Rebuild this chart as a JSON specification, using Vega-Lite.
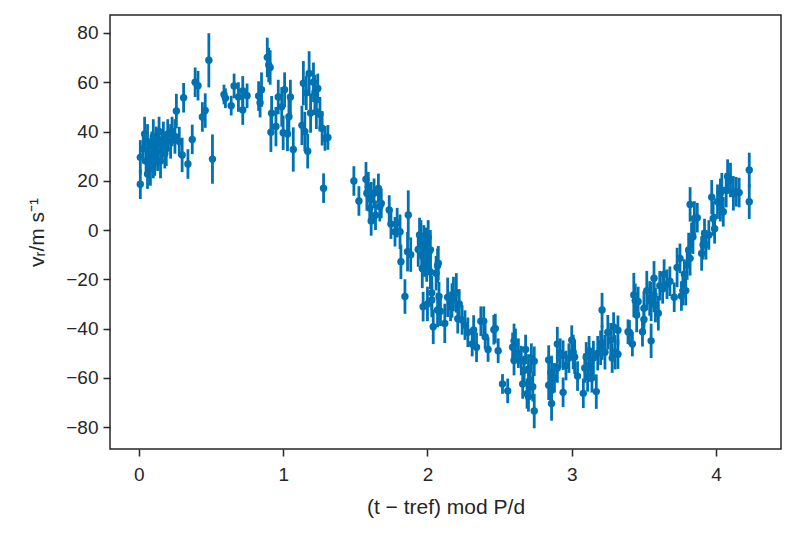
{
  "$schema": "https://vega.github.io/schema/vega-lite/v6.json",
  "width": 671,
  "height": 434,
  "autosize": {"type": "none"},
  "padding": {"left": 110, "top": 15, "right": 13, "bottom": 88},
  "background": "white",
  "config": {
    "view": {"stroke": "#262626", "strokeWidth": 1.5},
    "axis": {
      "grid": false,
      "domain": false,
      "labelFont": "Liberation Sans",
      "titleFont": "Liberation Sans",
      "labelFontSize": 19,
      "titleFontSize": 21,
      "titleFontWeight": "normal",
      "labelColor": "#262626",
      "titleColor": "#262626",
      "tickColor": "#262626",
      "tickSize": 7,
      "tickWidth": 1.5,
      "labelPadding": 5
    }
  },
  "data": {"values": [
    {"x":0.01,"y":18.6,"e":6},{"x":0.01,"y":29.5,"e":7},{"x":0.03,"y":33,"e":6},{"x":0.04,"y":39,"e":7},
    {"x":0.05,"y":28,"e":6},{"x":0.06,"y":22.7,"e":6},{"x":0.06,"y":36,"e":7},{"x":0.07,"y":31,"e":6},
    {"x":0.08,"y":25,"e":7},{"x":0.09,"y":34,"e":6},{"x":0.10,"y":38,"e":7},{"x":0.10,"y":27,"e":6},
    {"x":0.11,"y":29,"e":7},{"x":0.12,"y":36,"e":6},{"x":0.13,"y":32,"e":8},{"x":0.14,"y":40,"e":6},
    {"x":0.15,"y":28,"e":7},{"x":0.16,"y":35,"e":6},{"x":0.17,"y":37,"e":7},{"x":0.18,"y":31,"e":6},
    {"x":0.19,"y":33,"e":7},{"x":0.20,"y":39,"e":6},{"x":0.22,"y":36,"e":7},{"x":0.23,"y":40,"e":6},
    {"x":0.25,"y":38,"e":7},{"x":0.26,"y":48.3,"e":7},{"x":0.28,"y":35.9,"e":6},{"x":0.30,"y":30.5,"e":7},
    {"x":0.31,"y":53.7,"e":6},{"x":0.34,"y":26.8,"e":6},{"x":0.37,"y":36.8,"e":6},{"x":0.39,"y":60,"e":6},
    {"x":0.41,"y":58.6,"e":6},{"x":0.44,"y":45.9,"e":6},{"x":0.46,"y":48.5,"e":7},{"x":0.485,"y":68.9,"e":11},
    {"x":0.51,"y":28.8,"e":10},{"x":0.59,"y":55,"e":4},{"x":0.60,"y":53.5,"e":4},{"x":0.64,"y":50.5,"e":4},
    {"x":0.66,"y":58.5,"e":5},{"x":0.69,"y":54,"e":6},{"x":0.72,"y":48.7,"e":6},{"x":0.72,"y":56.5,"e":6},
    {"x":0.75,"y":54.5,"e":5},{"x":0.83,"y":54.4,"e":6},{"x":0.84,"y":51.7,"e":6},{"x":0.85,"y":57,"e":7},
    {"x":0.89,"y":70.1,"e":8},{"x":0.90,"y":67,"e":7},{"x":0.91,"y":66,"e":7},{"x":0.915,"y":39.7,"e":8},
    {"x":0.92,"y":47.4,"e":7},{"x":0.95,"y":42,"e":8},{"x":0.966,"y":54,"e":7},{"x":0.99,"y":50,"e":8},
    {"x":1.00,"y":39.5,"e":7},{"x":1.01,"y":57,"e":7},{"x":1.03,"y":39,"e":7},{"x":1.04,"y":46,"e":8},
    {"x":1.05,"y":54,"e":7},{"x":1.07,"y":32.7,"e":9},{"x":1.13,"y":42.5,"e":8},{"x":1.14,"y":59.6,"e":9},
    {"x":1.15,"y":40,"e":8},{"x":1.16,"y":55.7,"e":7},{"x":1.17,"y":32,"e":7},{"x":1.18,"y":63.6,"e":9},
    {"x":1.19,"y":47.5,"e":8},{"x":1.21,"y":60,"e":8},{"x":1.22,"y":56,"e":7},{"x":1.23,"y":48,"e":7},
    {"x":1.24,"y":57.5,"e":6},{"x":1.255,"y":47,"e":7},{"x":1.27,"y":41.3,"e":7},{"x":1.28,"y":17,"e":6},
    {"x":1.29,"y":37.2,"e":5},{"x":1.31,"y":37.6,"e":5},
    {"x":1.49,"y":19.9,"e":6},{"x":1.525,"y":11.8,"e":6},{"x":1.574,"y":20.6,"e":7},{"x":1.58,"y":14.9,"e":7},
    {"x":1.59,"y":17.6,"e":6},{"x":1.60,"y":8.8,"e":6},{"x":1.61,"y":3.7,"e":6},{"x":1.61,"y":12.5,"e":7},
    {"x":1.63,"y":14.9,"e":6},{"x":1.64,"y":6,"e":6},{"x":1.66,"y":16.9,"e":6},{"x":1.67,"y":9.5,"e":6},
    {"x":1.68,"y":10.8,"e":6},{"x":1.735,"y":8.1,"e":6},{"x":1.747,"y":2.4,"e":6},{"x":1.775,"y":-0.7,"e":6},
    {"x":1.79,"y":3,"e":6},{"x":1.81,"y":-0.7,"e":7},{"x":1.816,"y":-12.9,"e":7},{"x":1.844,"y":-27,"e":7},
    {"x":1.867,"y":6.1,"e":10},{"x":1.862,"y":-8.8,"e":8},{"x":1.884,"y":-10,"e":7},{"x":1.936,"y":-7.9,"e":7},
    {"x":1.945,"y":-2,"e":7},{"x":1.955,"y":-4,"e":8},{"x":1.96,"y":-10,"e":7},{"x":1.964,"y":-15.6,"e":8},
    {"x":1.97,"y":-31.1,"e":6},{"x":1.975,"y":-6,"e":8},{"x":1.98,"y":-11,"e":8},{"x":1.99,"y":-7,"e":8},
    {"x":1.995,"y":-14,"e":7},{"x":2.00,"y":-30,"e":7},{"x":2.005,"y":-3,"e":7},{"x":2.01,"y":-9,"e":8},
    {"x":2.02,"y":-8,"e":8},{"x":2.02,"y":-17,"e":7},{"x":2.03,"y":-25.5,"e":7},{"x":2.03,"y":-28.4,"e":7},
    {"x":2.04,"y":-39.3,"e":7},{"x":2.06,"y":-17.5,"e":7},{"x":2.07,"y":-14.5,"e":7},{"x":2.075,"y":-13.5,"e":7},
    {"x":2.07,"y":-32.5,"e":7},{"x":2.08,"y":-27,"e":6},{"x":2.09,"y":-33,"e":6},{"x":2.12,"y":-37.9,"e":8},
    {"x":2.14,"y":-27.3,"e":8},{"x":2.16,"y":-31,"e":6},{"x":2.17,"y":-28.6,"e":7},{"x":2.18,"y":-26,"e":7},
    {"x":2.20,"y":-25.5,"e":8},{"x":2.21,"y":-36,"e":6},{"x":2.22,"y":-30,"e":6},{"x":2.24,"y":-36.5,"e":6},
    {"x":2.26,"y":-38.6,"e":6},{"x":2.28,"y":-41.5,"e":6},{"x":2.31,"y":-46.3,"e":5},{"x":2.32,"y":-40.6,"e":6},
    {"x":2.34,"y":-47.6,"e":6},{"x":2.37,"y":-37,"e":6},{"x":2.39,"y":-37,"e":6},{"x":2.40,"y":-43.3,"e":5},
    {"x":2.42,"y":-48.5,"e":5},{"x":2.46,"y":-40.5,"e":6},{"x":2.47,"y":-40,"e":6},{"x":2.49,"y":-49,"e":5},
    {"x":2.52,"y":-62.5,"e":4},{"x":2.556,"y":-65.3,"e":5},{"x":2.59,"y":-47.6,"e":6},{"x":2.60,"y":-45,"e":7},
    {"x":2.60,"y":-53,"e":6},{"x":2.61,"y":-46,"e":6},{"x":2.63,"y":-50,"e":6},{"x":2.65,"y":-53,"e":6},
    {"x":2.66,"y":-62.5,"e":6},{"x":2.67,"y":-57,"e":6},{"x":2.68,"y":-48.5,"e":6},{"x":2.69,"y":-66.5,"e":6},
    {"x":2.70,"y":-56.4,"e":6},{"x":2.70,"y":-67.7,"e":6},{"x":2.71,"y":-60.9,"e":6},{"x":2.72,"y":-52,"e":6},
    {"x":2.73,"y":-63.6,"e":6},{"x":2.74,"y":-73.5,"e":7},{"x":2.74,"y":-53.3,"e":6},
    {"x":2.84,"y":-52.8,"e":6},{"x":2.84,"y":-63,"e":6},{"x":2.86,"y":-70.4,"e":7},{"x":2.86,"y":-58,"e":7},
    {"x":2.86,"y":-65,"e":6},{"x":2.88,"y":-60,"e":6},{"x":2.90,"y":-56,"e":6},{"x":2.90,"y":-46.3,"e":7},
    {"x":2.92,"y":-50,"e":6},{"x":2.94,"y":-65.9,"e":6},{"x":2.94,"y":-50.8,"e":6},{"x":2.96,"y":-55,"e":6},
    {"x":2.98,"y":-52,"e":6},{"x":3.00,"y":-44.7,"e":6},{"x":3.01,"y":-49.5,"e":7},{"x":3.02,"y":-51.5,"e":7},
    {"x":3.04,"y":-59.3,"e":6},{"x":3.08,"y":-66.3,"e":6},{"x":3.09,"y":-56,"e":6},{"x":3.10,"y":-51.5,"e":6},
    {"x":3.11,"y":-59.6,"e":6},{"x":3.12,"y":-49,"e":6},{"x":3.13,"y":-55.7,"e":6},{"x":3.14,"y":-60,"e":6},
    {"x":3.15,"y":-52,"e":7},{"x":3.17,"y":-65.6,"e":7},{"x":3.18,"y":-50,"e":7},{"x":3.20,"y":-47.8,"e":7},
    {"x":3.21,"y":-32.5,"e":7},{"x":3.21,"y":-45.7,"e":7},{"x":3.23,"y":-49.6,"e":7},{"x":3.25,"y":-41.5,"e":7},
    {"x":3.27,"y":-44.7,"e":7},{"x":3.28,"y":-52,"e":6},{"x":3.29,"y":-39.4,"e":6},{"x":3.30,"y":-49.6,"e":7},
    {"x":3.32,"y":-40.7,"e":6},{"x":3.32,"y":-50.4,"e":6},{"x":3.39,"y":-41.3,"e":5},{"x":3.40,"y":-41.6,"e":5},
    {"x":3.42,"y":-46.3,"e":5},{"x":3.43,"y":-26.4,"e":9},{"x":3.44,"y":-28.7,"e":7},{"x":3.45,"y":-34.5,"e":7},
    {"x":3.46,"y":-29,"e":6},{"x":3.49,"y":-41.3,"e":6},{"x":3.50,"y":-36.3,"e":6},{"x":3.50,"y":-31.8,"e":7},
    {"x":3.52,"y":-24.6,"e":8},{"x":3.54,"y":-27.8,"e":7},{"x":3.55,"y":-45,"e":7},{"x":3.55,"y":-29,"e":8},
    {"x":3.57,"y":-19.6,"e":7},{"x":3.57,"y":-26.4,"e":7},{"x":3.58,"y":-30.5,"e":7},{"x":3.60,"y":-33.8,"e":7},
    {"x":3.61,"y":-22.6,"e":6},{"x":3.63,"y":-23.9,"e":6},{"x":3.64,"y":-17.9,"e":6},{"x":3.66,"y":-22,"e":6},
    {"x":3.68,"y":-20.8,"e":6},{"x":3.71,"y":-27.3,"e":6},{"x":3.73,"y":-15.2,"e":8},{"x":3.75,"y":-11.5,"e":6},
    {"x":3.76,"y":-26.8,"e":6},{"x":3.77,"y":-24.6,"e":6},{"x":3.78,"y":-17.9,"e":6},{"x":3.79,"y":-24.6,"e":6},
    {"x":3.80,"y":-14.2,"e":6},{"x":3.81,"y":-8.1,"e":7},{"x":3.82,"y":10.4,"e":7},{"x":3.82,"y":-11.5,"e":7},
    {"x":3.83,"y":-3,"e":6},{"x":3.84,"y":-2.7,"e":7},{"x":3.85,"y":4.7,"e":7},{"x":3.87,"y":5,"e":6},
    {"x":3.90,"y":-9.5,"e":7},{"x":3.91,"y":-6,"e":6},{"x":3.92,"y":-1.4,"e":6},{"x":3.93,"y":-6,"e":6},
    {"x":3.95,"y":-2,"e":6},{"x":3.97,"y":13.3,"e":7},{"x":3.98,"y":4.7,"e":7},{"x":3.99,"y":0.5,"e":6},
    {"x":4.01,"y":11.5,"e":7},{"x":4.03,"y":9.5,"e":6},{"x":4.03,"y":14.9,"e":6},{"x":4.04,"y":16.2,"e":7},
    {"x":4.05,"y":7.4,"e":6},{"x":4.07,"y":16.2,"e":7},{"x":4.08,"y":21.7,"e":7},{"x":4.10,"y":20.3,"e":7},
    {"x":4.12,"y":14.9,"e":7},{"x":4.14,"y":15.5,"e":6},{"x":4.16,"y":15.2,"e":6},{"x":4.23,"y":24.4,"e":7},
    {"x":4.23,"y":11.5,"e":7}
  ]},
  "layer": [
    {
      "mark": {"type": "errorbar", "color": "#0072B2", "thickness": 2.8},
      "encoding": {
        "x": {"field": "x", "type": "quantitative",
              "scale": {"domain": [-0.2, 4.45], "nice": false, "zero": false},
              "axis": {"values": [0, 1, 2, 3, 4], "format": "d", "title": "(t − tref) mod P/d", "labelPadding": 9, "titlePadding": 12}},
        "y": {"field": "y", "type": "quantitative",
              "scale": {"domain": [-88.9, 87.3], "nice": false, "zero": false},
              "axis": {"values": [-80, -60, -40, -20, 0, 20, 40, 60, 80], "title": "vᵣ/m s⁻¹", "titlePadding": 18}},
        "yError": {"field": "e"}
      }
    },
    {
      "mark": {"type": "circle", "color": "#0072B2", "opacity": 1, "size": 55},
      "encoding": {
        "x": {"field": "x", "type": "quantitative"},
        "y": {"field": "y", "type": "quantitative"}
      }
    }
  ]
}
